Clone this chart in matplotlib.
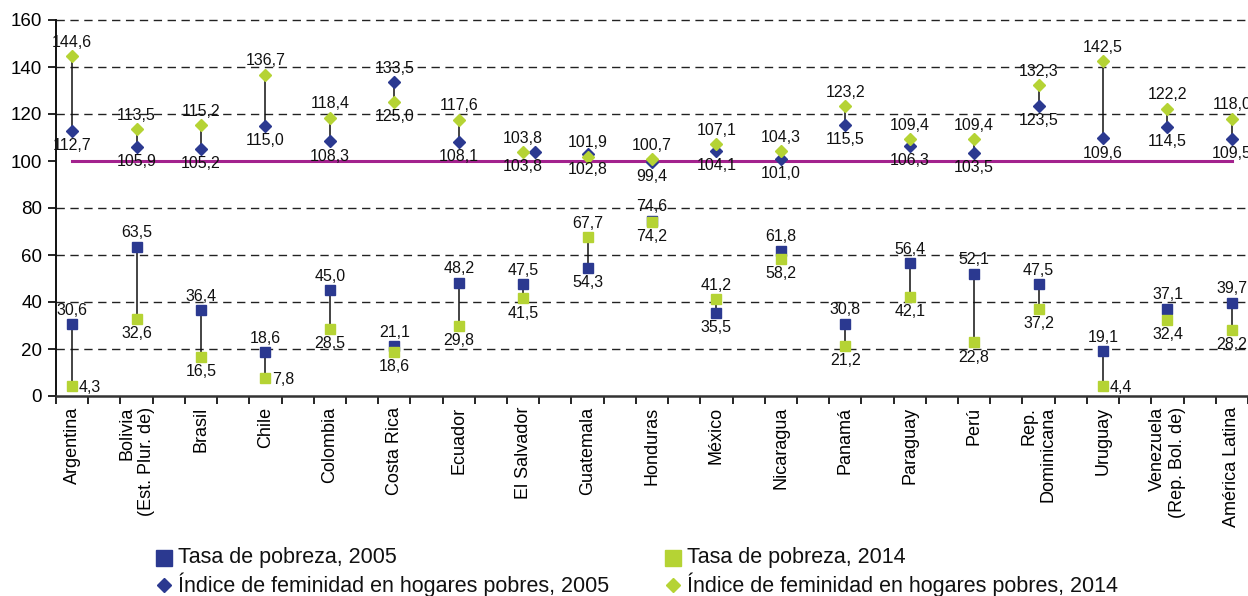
import matplotlib
matplotlib.use("Agg")
import matplotlib.pyplot as plt
from matplotlib.lines import Line2D
from matplotlib.transforms import offset_copy

plt.rcParams['font.family'] = ['Liberation Sans', 'DejaVu Sans']

# === Datos ===
paises = ["Argentina", "Bolivia\n(Est. Plur. de)", "Brasil", "Chile", "Colombia",
          "Costa Rica", "Ecuador", "El Salvador", "Guatemala", "Honduras", "México",
          "Nicaragua", "Panamá", "Paraguay", "Perú", "Rep.\nDominicana", "Uruguay",
          "Venezuela\n(Rep. Bol. de)", "América Latina"]
pobreza_2005 = [30.6, 63.5, 36.4, 18.6, 45.0, 21.1, 48.2, 47.5, 54.3, 74.6, 35.5,
                61.8, 30.8, 56.4, 52.1, 47.5, 19.1, 37.1, 39.7]
pobreza_2014 = [4.3, 32.6, 16.5, 7.8, 28.5, 18.6, 29.8, 41.5, 67.7, 74.2, 41.2,
                58.2, 21.2, 42.1, 22.8, 37.2, 4.4, 32.4, 28.2]
feminidad_2005 = [112.7, 105.9, 105.2, 115.0, 108.3, 133.5, 108.1, 103.8, 102.8, 99.4,
                  104.1, 101.0, 115.5, 106.3, 103.5, 123.5, 109.6, 114.5, 109.5]
feminidad_2014 = [144.6, 113.5, 115.2, 136.7, 118.4, 125.0, 117.6, 103.8, 101.9, 100.7,
                  107.1, 104.3, 123.2, 109.4, 109.4, 132.3, 142.5, 122.2, 118.0]

# posición de las etiquetas: a = arriba, b = abajo, r = derecha
pos_pob_05 = ['a'] * 19
pos_pob_05[8] = 'b'
pos_pob_05[10] = 'b'
pos_pob_14 = ['b'] * 19
pos_pob_14[8] = 'a'
pos_pob_14[10] = 'a'
for i in (0, 3, 16):
    pos_pob_14[i] = 'r'
pos_fem_05 = ['b'] * 19
pos_fem_05[5] = 'a'
pos_fem_14 = ['a'] * 19
pos_fem_14[5] = 'b'
# desplazamiento horizontal del marcador (pt) cuando coinciden
desp_fem_05 = [0] * 19
desp_fem_05[7] = 8.5

AZUL = '#2B3990'
VERDE = '#B5D334'
MAGENTA = '#A3228E'

fig = plt.figure(figsize=(12.48, 5.96), dpi=100)
ax = fig.add_axes([56 / 1248, 200 / 596, 1192 / 1248, 376 / 596])
ax.set_xlim(-0.25, 18.15)
ax.set_ylim(0, 160)

for y in [20, 40, 60, 80, 120, 140, 160]:
    ax.axhline(y, color='#222222', lw=1.0, dashes=(6, 4), zorder=1, clip_on=False)

x = list(range(len(paises)))
ax.plot([0, len(paises) - 1], [100, 100], color=MAGENTA, lw=2.2, zorder=2)

for i in x:
    ax.plot([i, i], [pobreza_2005[i], pobreza_2014[i]], color='#111111', lw=1.1, zorder=2)
    ax.plot([i, i], [feminidad_2005[i], feminidad_2014[i]], color='#111111', lw=1.1, zorder=2)

ax.plot(x, pobreza_2005, 's', color=AZUL, ms=7, zorder=3, clip_on=False)
ax.plot(x, pobreza_2014, 's', color=VERDE, ms=7, zorder=4, clip_on=False)
for i in x:
    tr = offset_copy(ax.transData, fig=fig, x=desp_fem_05[i], y=0, units='points')
    ax.plot(i, feminidad_2005[i], 'D', color=AZUL, ms=5.7, zorder=3, transform=tr)
ax.plot(x, feminidad_2014, 'D', color=VERDE, ms=5.7, zorder=4)


def etiquetar(vals, posiciones):
    for i, (v, p) in enumerate(zip(vals, posiciones)):
        txt = f"{v:.1f}".replace('.', ',')
        if p == 'a':
            off, ha = (0, 10), 'center'
        elif p == 'b':
            off, ha = (0, -10.5), 'center'
        else:
            off, ha = (5, -1), 'left'
        ax.annotate(txt, (i, v), xytext=off, textcoords='offset points',
                    ha=ha, va='center', fontsize=11.5, color='#111111', zorder=5,
                    annotation_clip=False)


etiquetar(pobreza_2005, pos_pob_05)
etiquetar(pobreza_2014, pos_pob_14)
etiquetar(feminidad_2005, pos_fem_05)
etiquetar(feminidad_2014, pos_fem_14)

# === Ejes ===
for s in ['top', 'right']:
    ax.spines[s].set_visible(False)
ax.spines['left'].set_color('#111111')
ax.spines['left'].set_linewidth(1.4)
ax.spines['bottom'].set_color('#333333')
ax.spines['bottom'].set_linewidth(1.8)

ax.set_yticks(range(0, 161, 20))
ax.tick_params(axis='y', length=6, width=1.2, pad=4, labelsize=13.5)
ax.set_xticks(x)
ax.set_xticklabels(paises, rotation=90, fontsize=13, ha='center', va='top',
                   multialignment='right')
ax.tick_params(axis='x', which='major', length=0, pad=8)
ax.set_xticks([j * 0.5 - 0.25 for j in range(38)], minor=True)
ax.tick_params(axis='x', which='minor', length=6, width=1.2)

# === Leyenda ===
def item(xm, xt, yp, marker, color, ms, texto):
    fy = 1 - yp / 596
    fig.add_artist(Line2D([xm / 1248], [fy], marker=marker, color=color, ms=ms,
                          ls='none', transform=fig.transFigure))
    fig.text(xt / 1248, fy, texto, fontsize=15.5, va='center', ha='left', color='#111111')


item(164, 178, 558, 's', AZUL, 11.5, "Tasa de pobreza, 2005")
item(164, 178, 585, 'D', AZUL, 7, "Índice de feminidad en hogares pobres, 2005")
item(673, 687, 558, 's', VERDE, 11.5, "Tasa de pobreza, 2014")
item(673, 687, 585, 'D', VERDE, 7, "Índice de feminidad en hogares pobres, 2014")

fig.savefig("out.png", dpi=100)
